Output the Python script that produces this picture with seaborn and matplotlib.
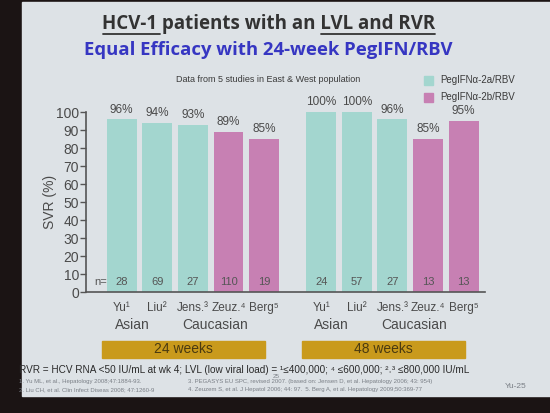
import numpy as np
import pandas as pd
import matplotlib
matplotlib.use("Agg")
import matplotlib.pyplot as plt
import seaborn as sns
from matplotlib.patches import Rectangle

# Data
studies = ["Yu¹", "Liu²", "Jens.³", "Zeuz.⁴", "Berg⁵"] * 2
svr = [96, 94, 93, 89, 85, 100, 100, 96, 85, 95]
n_pts = [28, 69, 27, 110, 19, 24, 57, 27, 13, 13]
drug = ["PegIFNα-2a/RBV"] * 3 + ["PegIFNα-2b/RBV"] * 2 + ["PegIFNα-2a/RBV"] * 3 + ["PegIFNα-2b/RBV"] * 2
groups = ["24 weeks", "48 weeks"]
populations = ["Asian", "Caucasian"]
yticks = list(range(0, 101, 10))

colors = {"PegIFNα-2a/RBV": "#a3d6cf", "PegIFNα-2b/RBV": "#c780b3"}
gap = 0.6
pos = [i + (gap if i >= 5 else 0) for i in range(len(svr))]
df = pd.DataFrame({"pos": pos, "svr": svr, "n": n_pts, "drug": drug, "study": studies})

sns.set_style("white")
plt.rcParams["font.family"] = ["Liberation Sans", "DejaVu Sans"]

fig = plt.figure(figsize=(5.5, 4.13), dpi=100, facecolor="#1b1414")
W, H = 550, 413


def fx(px):
    return px / W


def fy(py):
    return 1 - py / H


# slide background
fig.patches.append(Rectangle((fx(22), fy(396)), fx(528), (394) / H,
                             transform=fig.transFigure, color="#dde2e6", zorder=-5))

ax = fig.add_axes([fx(86), fy(292), fx(399), 180 / H])
ax.set_facecolor("none")
sns.barplot(data=df, x="pos", y="svr", hue="drug", palette=colors, native_scale=True,
            dodge=False, width=0.84, legend=False, ax=ax, saturation=1, linewidth=0)
ax.set_xlim(-1.0, 10.2)
ax.set_ylim(0, 100)
ax.set_yticks(yticks)
ax.set_yticklabels([str(t) for t in yticks], fontsize=10, color="#4a4a4a")
ax.set_xticks(pos)
ax.set_xticklabels(studies, fontsize=8.5, color="#4a4a4a")
ax.tick_params(axis="x", length=0, pad=7)
ax.tick_params(axis="y", length=4, width=1, color="#555555", pad=1, direction="out", left=True)
ax.set_xlabel("")
ax.set_ylabel("SVR (%)", fontsize=10, color="#4a4a4a", labelpad=-1)
for s in ["top", "right"]:
    ax.spines[s].set_visible(False)
for s in ["left", "bottom"]:
    ax.spines[s].set_color("#555555")
    ax.spines[s].set_linewidth(1.2)

for p, v, n in zip(pos, svr, n_pts):
    ax.text(p, v + 2, f"{v}%", ha="center", va="bottom", fontsize=8.5, color="#4a4a4a")
    ax.text(p, 5.5, str(n), ha="center", va="center", fontsize=8, color="#555555")
ax.text(-0.6, 5.5, "n=", ha="center", va="center", fontsize=8, color="#555555")

# population labels and week boxes
for g, offset in enumerate([0, 5 + gap]):
    ax.text(offset + 0.3, -18.5, populations[0], ha="center", va="center", fontsize=10,
            color="#4a4a4a", clip_on=False)
    ax.text(offset + 2.62, -18.5, populations[1], ha="center", va="center", fontsize=10,
            color="#4a4a4a", clip_on=False)
    ax.add_patch(Rectangle((offset - 0.55, -27), 4.58, -9.5, color="#c99a1c",
                           clip_on=False, zorder=3))
    ax.text(offset + 1.74, -31.8, groups[g], ha="center", va="center", fontsize=10,
            color="#4a3a10", clip_on=False, zorder=4)

# titles
fig.text(fx(269), fy(24), "HCV-1 patients with an LVL and RVR", ha="center", va="center",
         fontsize=13.5, fontweight="bold", color="#333333", family=["Open Sans", "DejaVu Sans"])
fig.add_artist(plt.Line2D([fx(103), fx(160)], [fy(34), fy(34)], color="#333333", lw=1.3))
fig.add_artist(plt.Line2D([fx(321), fx(435)], [fy(34), fy(34)], color="#333333", lw=1.3))
fig.text(fx(268), fy(50), "Equal Efficacy with 24-week PegIFN/RBV", ha="center", va="center",
         fontsize=13.3, fontweight="bold", color="#3636c2", family=["Open Sans", "DejaVu Sans"])
fig.text(fx(268), fy(80), "Data from 5 studies in East & West population", ha="center",
         va="center", fontsize=6.5, color="#3a3a3a")

# legend
for i, (lab, c) in enumerate(colors.items()):
    fig.patches.append(Rectangle((fx(424), fy(85 + 17 * i)), fx(9), 9 / H,
                                 transform=fig.transFigure, color=c))
    fig.text(fx(440), fy(80 + 17 * i), lab, ha="left", va="center", fontsize=7, color="#3a3a3a")

# footnotes
fig.text(fx(19), fy(370), "RVR = HCV RNA <50 IU/mL at wk 4; LVL (low viral load) = ¹≤400,000; ⁴ ≤600,000; ²˒³ ≤800,000 IU/mL",
         ha="left", va="center", fontsize=7.2, color="#2a2a2a")
refs_left = ["1. Yu ML, et al., Hepatology 2008;47:1884-93.",
             "2. Liu CH, et al. Clin Infect Diseas 2008; 47:1260-9"]
refs_right = ["3. PEGASYS EU SPC, revised 2007. (based on: Jensen D, et al. Hepatology 2006; 43: 954)",
              "4. Zeuzem S, et al. J Hepatol 2006; 44: 97.  5. Berg A, et al. Hepatology 2009;50:369-77"]
for i in range(2):
    fig.text(fx(19), fy(381 + 9 * i), refs_left[i], ha="left", va="center", fontsize=4.3, color="#7a7f86")
    fig.text(fx(188), fy(381 + 9 * i), refs_right[i], ha="left", va="center", fontsize=4.3, color="#7a7f86")
fig.text(fx(276), fy(377), "25", ha="center", va="center", fontsize=4.5, color="#7a7f86")
fig.text(fx(505), fy(387), "Yu-25", ha="left", va="center", fontsize=6, color="#7a7f86")

fig.savefig("out.png", dpi=100, facecolor=fig.get_facecolor())
